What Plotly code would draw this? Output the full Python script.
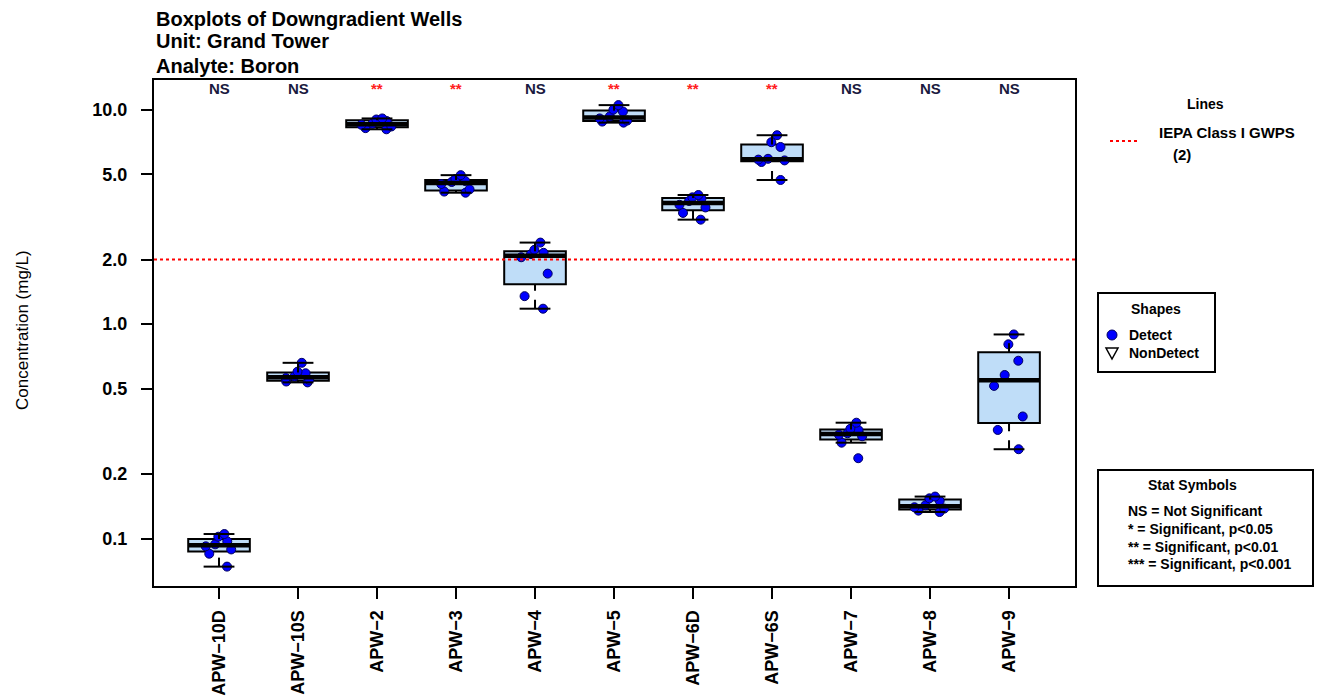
import math
import numpy as np
import plotly.graph_objects as go

# ---------------- data ----------------
wells = ["APW-10D", "APW-10S", "APW-2", "APW-3", "APW-4", "APW-5",
         "APW-6D", "APW-6S", "APW-7", "APW-8", "APW-9"]

apw_10d = [0.074, 0.085, 0.089, 0.092, 0.094, 0.097, 0.102, 0.105]
apw_10s = [0.535, 0.54, 0.55, 0.56, 0.57, 0.59, 0.60, 0.66]
apw_2 = [8.1, 8.2, 8.35, 8.5, 8.6, 8.85, 9.0, 9.1]
apw_3 = [4.1, 4.15, 4.25, 4.5, 4.6, 4.65, 4.75, 4.95]
apw_4 = [1.18, 1.35, 1.72, 2.05, 2.12, 2.15, 2.22, 2.4]
apw_5 = [8.7, 8.8, 8.9, 9.1, 9.3, 9.8, 10.0, 10.5]
apw_6d = [3.07, 3.3, 3.5, 3.6, 3.75, 3.85, 3.9, 4.0]
apw_6s = [4.7, 5.7, 5.8, 5.85, 5.9, 6.7, 7.05, 7.6]
apw_7 = [0.237, 0.28, 0.30, 0.305, 0.31, 0.32, 0.325, 0.347]
apw_8 = [0.133, 0.135, 0.138, 0.14, 0.143, 0.15, 0.154, 0.157]
apw_9 = [0.261, 0.321, 0.371, 0.515, 0.579, 0.675, 0.805, 0.895]

well_values = [apw_10d, apw_10s, apw_2, apw_3, apw_4, apw_5,
               apw_6d, apw_6s, apw_7, apw_8, apw_9]

stat_symbols = ["NS", "NS", "**", "**", "NS", "**", "**", "**", "NS", "NS", "NS"]
gwps_value = 2.0

y_tick_values = [0.1, 0.2, 0.5, 1.0, 2.0, 5.0, 10.0]
y_tick_labels = ["0.1", "0.2", "0.5", "1.0", "2.0", "5.0", "10.0"]

# ---------------- layout constants ----------------
W, H = 1317, 697
PL, PR, PT, PB = 154, 1075, 80, 586   # plot-area pixel edges
X_RANGE = [0.177, 11.835]
Y_RANGE = [np.log10(0.0601), np.log10(13.75)]
FONT = "Liberation Sans, Arial, sans-serif"
BOX_FILL = "#BFDDF8"
POINT_BLUE = "#0000FF"
BOX_W = 0.78
CAP_W = 0.39


def px(x):
    return (x - PL) / (PR - PL)


def py(y):
    return (PB - y) / (PB - PT)


def tukey_stats(vals):
    """R-style boxplot.stats: hinges (fivenum) and whiskers at 1.5*IQR."""
    x = sorted(vals)
    n = len(x)
    n4 = math.floor((n + 3) / 2) / 2
    d = [1, n4, (n + 1) / 2, n + 1 - n4, n]
    f = [0.5 * (x[math.floor(di) - 1] + x[math.ceil(di) - 1]) for di in d]
    q1, med, q3 = f[1], f[2], f[3]
    iqr = q3 - q1
    lo = min(v for v in x if v >= q1 - 1.5 * iqr)
    hi = max(v for v in x if v <= q3 + 1.5 * iqr)
    return q1, med, q3, lo, hi


positions = list(range(1, len(wells) + 1))
fig = go.Figure()

# whiskers (dashed) and staples
for pos, vals in zip(positions, well_values):
    q1, med, q3, lo, hi = tukey_stats(vals)
    for a, b in [(q3, hi), (lo, q1)]:
        fig.add_trace(go.Scatter(
            x=[pos, pos], y=[a, b], mode="lines",
            line=dict(color="black", width=2, dash="dash"),
            showlegend=False, hoverinfo="skip"))
    for v in (lo, hi):
        fig.add_trace(go.Scatter(
            x=[pos - CAP_W / 2, pos + CAP_W / 2], y=[v, v], mode="lines",
            line=dict(color="black", width=2), showlegend=False, hoverinfo="skip"))

# boxes
for pos, vals in zip(positions, well_values):
    q1, med, q3, lo, hi = tukey_stats(vals)
    fig.add_trace(go.Box(
        x=[pos], q1=[q1], median=[med], q3=[q3], lowerfence=[q1], upperfence=[q3],
        width=BOX_W, whiskerwidth=0, fillcolor=BOX_FILL,
        line=dict(color="black", width=2), showlegend=False, hoverinfo="skip",
    ))
    # thick median
    fig.add_trace(go.Scatter(
        x=[pos - BOX_W / 2 + 0.01, pos + BOX_W / 2 - 0.01], y=[med, med], mode="lines",
        line=dict(color="black", width=4.5), showlegend=False, hoverinfo="skip",
    ))

# points
for pos, vals in zip(positions, well_values):
    fig.add_trace(go.Box(
        x=[pos] * len(vals), y=vals, width=BOX_W,
        fillcolor="rgba(0,0,0,0)", line=dict(color="rgba(0,0,0,0)", width=0),
        boxpoints="all", jitter=0.6, pointpos=0,
        marker=dict(color=POINT_BLUE, size=9, line=dict(color="#000060", width=1)),
        quartilemethod="inclusive", showlegend=False,
    ))

# GWPS reference line
fig.add_trace(go.Scatter(
    x=X_RANGE, y=[gwps_value, gwps_value], mode="lines",
    line=dict(color="red", width=2, dash="dot"), showlegend=False, hoverinfo="skip",
))

annotations = []
shapes = []

# titles
for text, yy in [("Boxplots of Downgradient Wells", 19),
                 ("Unit: Grand Tower", 41),
                 ("Analyte: Boron", 66)]:
    annotations.append(dict(text=text, xref="paper", yref="paper", x=px(154), y=py(yy),
                            xanchor="left", yanchor="middle", showarrow=False,
                            font=dict(family=FONT, size=20, color="black", weight="bold")))

# y-axis title
annotations.append(dict(text="Concentration (mg/L)", xref="paper", yref="paper",
                        x=px(22), y=py(330), textangle=-90, showarrow=False,
                        xanchor="center", yanchor="middle",
                        font=dict(family=FONT, size=17, color="black")))

# stat symbols at top
for pos, sym in zip(positions, stat_symbols):
    annotations.append(dict(text=sym, xref="x", yref="paper", x=pos, y=py(88),
                            xanchor="center", yanchor="middle", showarrow=False,
                            font=dict(family=FONT, size=15, weight="bold",
                                      color="#1a1a40" if sym == "NS" else "#FF2020")))

leg_font = dict(family=FONT, size=14, color="black", weight="bold")

# Lines legend
annotations.append(dict(text="Lines", xref="paper", yref="paper", x=px(1205), y=py(104),
                        xanchor="center", yanchor="middle", showarrow=False, font=leg_font))
annotations.append(dict(text="IEPA Class I GWPS", xref="paper", yref="paper", x=px(1157),
                        y=py(133), xanchor="left", yanchor="middle", showarrow=False,
                        font=dict(family=FONT, size=15, color="black", weight="bold")))
annotations.append(dict(text="(2)", xref="paper", yref="paper", x=px(1171), y=py(154),
                        xanchor="left", yanchor="middle", showarrow=False,
                        font=dict(family=FONT, size=15, color="black", weight="bold")))
shapes.append(dict(type="line", xref="paper", yref="paper", x0=px(1110), x1=px(1140),
                   y0=py(141), y1=py(141), line=dict(color="red", width=2, dash="dot")))

# Shapes legend
shapes.append(dict(type="rect", xref="paper", yref="paper", x0=px(1098), x1=px(1215),
                   y0=py(293), y1=py(372), line=dict(color="black", width=2)))
annotations.append(dict(text="Shapes", xref="paper", yref="paper", x=px(1156), y=py(309),
                        xanchor="center", yanchor="middle", showarrow=False, font=leg_font))
shapes.append(dict(type="circle", xref="paper", yref="paper", xsizemode="pixel",
                   ysizemode="pixel", xanchor=px(1112), yanchor=py(335),
                   x0=-5, x1=5, y0=-5, y1=5, fillcolor=POINT_BLUE,
                   line=dict(color="#000060", width=1)))
shapes.append(dict(type="path", xref="paper", yref="paper", xsizemode="pixel",
                   ysizemode="pixel", xanchor=px(1112), yanchor=py(353),
                   path="M-6,5 L6,5 L0,-6 Z", line=dict(color="black", width=1.5)))
annotations.append(dict(text="Detect", xref="paper", yref="paper", x=px(1127), y=py(335),
                        xanchor="left", yanchor="middle", showarrow=False, font=leg_font))
annotations.append(dict(text="NonDetect", xref="paper", yref="paper", x=px(1127), y=py(353),
                        xanchor="left", yanchor="middle", showarrow=False, font=leg_font))

# Stat symbols legend
shapes.append(dict(type="rect", xref="paper", yref="paper", x0=px(1098), x1=px(1313),
                   y0=py(470), y1=py(586), line=dict(color="black", width=2)))
annotations.append(dict(text="Stat Symbols", xref="paper", yref="paper", x=px(1192), y=py(485),
                        xanchor="center", yanchor="middle", showarrow=False, font=leg_font))
for text, yy in [("NS = Not Significant", 511),
                 ("* = Significant, p<0.05", 529),
                 ("** = Significant, p<0.01", 547),
                 ("*** = Significant, p<0.001", 564)]:
    annotations.append(dict(text=text, xref="paper", yref="paper", x=px(1126), y=py(yy),
                            xanchor="left", yanchor="middle", showarrow=False, font=leg_font))

fig.update_layout(
    width=W, height=H,
    margin=dict(l=PL, r=W - PR, t=PT, b=H - PB, pad=0),
    paper_bgcolor="white", plot_bgcolor="white",
    boxmode="overlay",
    annotations=annotations, shapes=shapes,
    font=dict(family=FONT, color="black"),
)
fig.update_xaxes(
    type="linear", range=X_RANGE, tickmode="array", tickvals=positions,
    ticktext=[w.replace("-", "\u2212") for w in wells], tickangle=-90,
    showgrid=False, zeroline=False, showline=True, linecolor="black", linewidth=2,
    mirror=True, ticks="outside", ticklen=11, tickwidth=2, tickcolor="black",
    ticklabelstandoff=4,
    tickfont=dict(family=FONT, size=18, color="black", weight="bold"), automargin=False,
)
fig.update_yaxes(
    type="log", range=Y_RANGE, tickmode="array", tickvals=y_tick_values,
    ticktext=y_tick_labels, showgrid=False, zeroline=False, showline=True,
    linecolor="black", linewidth=2, mirror=True, ticks="outside", ticklen=11,
    tickwidth=2, tickcolor="black", ticklabelstandoff=10,
    tickfont=dict(family=FONT, size=18, color="black", weight="bold"), automargin=False,
)

fig.write_html("out.html", config={"displayModeBar": False},
               post_script="document.body.style.margin='0px';")
